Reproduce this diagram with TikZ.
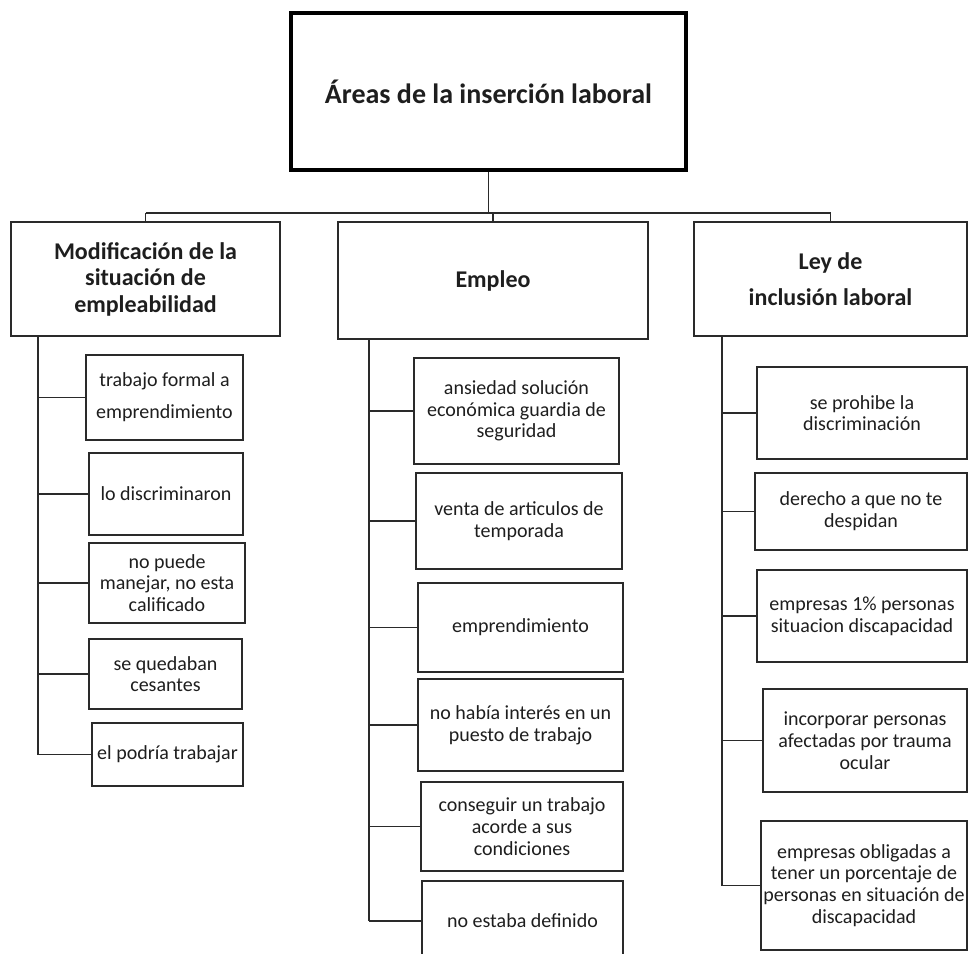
\documentclass[tikz,border=0pt]{standalone}
\usepackage{fontspec}
\setmainfont{Carlito}
\definecolor{ink}{HTML}{1E1E1E}
\definecolor{linec}{HTML}{2A2A2A}
\begin{document}
\begin{tikzpicture}[x=1pt,y=-1pt,
  every node/.style={inner sep=0pt, align=center, text=ink},
  boxnode/.style={draw=linec, line width=1.6pt, rectangle},
  topbox/.style={draw=black, line width=4pt, rectangle,
    font={\fontsize{28pt}{32pt}\selectfont\bfseries}},
  headbox/.style={boxnode, font={\fontsize{24pt}{26.5pt}\selectfont\bfseries}},
  itembox/.style={boxnode, font={\fontsize{20pt}{21.7pt}\selectfont}},
  wh/.style 2 args={minimum width=#1pt, minimum height=#2pt},
  link/.style={draw=linec, line width=1.6pt}]
\clip (0,0) rectangle (968,953);
\fill[white] (0,0) rectangle (968,953);

% root
\node[topbox, wh={395}{157}] (top) at (488.5,91.5) {Áreas de la inserción laboral};

% three branches
\node[headbox, wh={269}{114}] (h1) at (145.5,279) {Modificación de la\\situación de\\empleabilidad};
\node[headbox, wh={310}{117}] (h2) at (493,280.5) {Empleo};
\node[headbox, wh={273}{114}] (h3) at (830.5,279) {Ley de\\[9pt]inclusión laboral};

% bus between root and branches
\coordinate (bus) at (0,213);
\draw[link] (top.south) -- (top.south |- bus);
\draw[link] (h1.north |- bus) -- (h3.north |- bus);
\draw[link] (h1.north |- bus) -- (h1.north);
\draw[link] (h2.north |- bus) -- (h2.north);
\draw[link] (h3.north |- bus) -- (h3.north);

% first branch items
\node[itembox, wh={157}{85}] (l1) at (164.5,397.5) {trabajo formal a\\[10pt]emprendimiento};
\node[itembox, wh={154}{82}] (l2) at (166,494) {lo discriminaron};
\node[itembox, wh={156}{80}] (l3) at (167,583) {no puede\\manejar, no esta\\calificado};
\node[itembox, wh={153}{70}] (l4) at (165.5,674) {se quedaban\\cesantes};
\node[itembox, wh={151}{63}] (l5) at (167.5,754.5) {el podría trabajar};

% second branch items
\node[itembox, wh={205}{106}] (c1) at (516.5,411) {ansiedad solución\\económica guardia de\\seguridad};
\node[itembox, wh={206}{96}] (c2) at (519,521) {venta de articulos de\\temporada};
\node[itembox, wh={205}{89}] (c3) at (520.5,627.5) {emprendimiento};
\node[itembox, wh={205}{92}] (c4) at (520.5,725) {no había interés en un\\puesto de trabajo};
\node[itembox, wh={202}{89}] (c5) at (522,826.5) {conseguir un trabajo\\acorde a sus\\condiciones};
\node[itembox, wh={201}{80}] (c6) at (522.5,921) {no estaba definido};

% third branch items
\node[itembox, wh={210}{92}] (r1) at (862,413) {se prohibe la\\discriminación};
\node[itembox, wh={212}{77}] (r2) at (861,511.5) {derecho a que no te\\despidan};
\node[itembox, wh={210}{92}] (r3) at (862,616) {empresas 1\% personas\\situacion discapacidad};
\node[itembox, wh={204}{103}] (r4) at (865,740.5) {incorporar personas\\afectadas por trauma\\ocular};
\node[itembox, wh={206}{129}] (r5) at (864,885.5) {empresas obligadas a\\tener un porcentaje de\\personas en situación de\\discapacidad};

% trunks
\coordinate (t1) at (38,0);
\coordinate (t2) at (369,0);
\coordinate (t3) at (722,0);
\draw[link] (t1 |- h1.south) -- (t1 |- l5.west);
\draw[link] (t2 |- h2.south) -- (t2 |- c6.west);
\draw[link] (t3 |- h3.south) -- (t3 |- r5.west);

% item links
\foreach \n in {l1,l2,l3,l4,l5} \draw[link] (t1 |- \n.west) -- (\n.west);
\foreach \n in {c1,c2,c3,c4,c5,c6} \draw[link] (t2 |- \n.west) -- (\n.west);
\foreach \n in {r1,r2,r3,r4,r5} \draw[link] (t3 |- \n.west) -- (\n.west);
\end{tikzpicture}
\end{document}
